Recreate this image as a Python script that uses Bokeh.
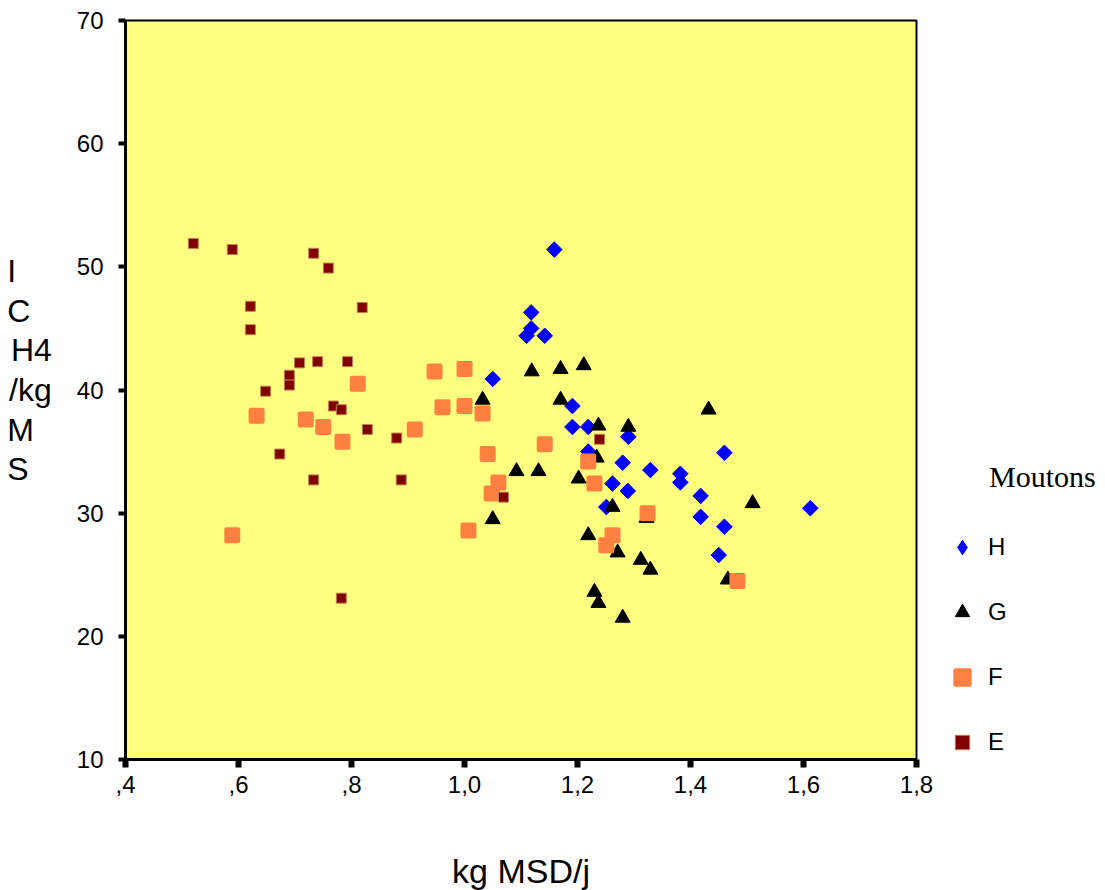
import math
from bokeh.plotting import figure
from bokeh.models import (Range1d, FixedTicker, CustomJSTickFormatter,
                          Legend, LegendItem)
from bokeh.embed import file_html
from bokeh.resources import INLINE

# ---- data ----
groups = ["H", "G", "F", "E"]

h_x = [1.159, 1.118, 1.118, 1.110, 1.142, 1.050, 1.191, 1.191, 1.219, 1.290, 1.219, 1.280,
       1.329, 1.382, 1.382, 1.262, 1.289, 1.251, 1.418, 1.418, 1.460, 1.460, 1.450, 1.612]
h_y = [51.4, 46.3, 45.0, 44.4, 44.4, 40.9, 38.7, 37.0, 37.0, 36.2, 35.0, 34.1,
       33.5, 33.2, 32.5, 32.4, 31.8, 30.5, 31.4, 29.7, 34.9, 28.9, 26.6, 30.4]

g_x = [1.119, 1.170, 1.211, 1.032, 1.170, 1.237, 1.290, 1.234, 1.092, 1.131, 1.202, 1.262,
       1.322, 1.050, 1.219, 1.271, 1.312, 1.329, 1.230, 1.237, 1.280, 1.432, 1.510, 1.466]
g_y = [41.5, 41.7, 42.0, 39.2, 39.2, 37.1, 37.0, 34.5, 33.4, 33.4, 32.8, 30.5,
       29.6, 29.5, 28.2, 26.8, 26.2, 25.4, 23.6, 22.7, 21.5, 38.4, 30.8, 24.6]

f_x = [0.947, 1.000, 0.811, 0.961, 1.000, 1.032, 0.632, 0.719, 0.750, 0.912, 0.784, 1.142,
       1.041, 1.219, 1.060, 1.230, 1.048, 1.324, 1.007, 1.262, 1.251, 1.483, 0.589]
f_y = [41.5, 41.7, 40.5, 38.6, 38.7, 38.1, 37.9, 37.6, 37.0, 36.8, 35.8, 35.6,
       34.8, 34.2, 32.5, 32.4, 31.6, 30.0, 28.6, 28.2, 27.4, 24.5, 28.2]

e_x = [0.520, 0.589, 0.733, 0.759, 0.621, 0.819, 0.621, 0.708, 0.740, 0.793, 0.690, 0.690,
       0.648, 0.768, 0.782, 0.828, 0.880, 0.673, 0.733, 0.888, 0.782, 1.069, 1.239]
e_y = [51.9, 51.4, 51.1, 49.9, 46.8, 46.7, 44.9, 42.2, 42.3, 42.3, 41.2, 40.4,
       39.9, 38.7, 38.4, 36.8, 36.1, 34.8, 32.7, 32.7, 23.1, 31.3, 36.0]

x_ticks = [0.4, 0.6, 0.8, 1.0, 1.2, 1.4, 1.6, 1.8]
y_ticks = [10, 20, 30, 40, 50, 60, 70]
x_title = "kg MSD/j"
y_title_lines = ["I", "C", "H4", "/kg", "M", "S"]
legend_title = "Moutons"

FONT = "Liberation Sans"
NB = "\u00a0"
# trailing spaces so that the right-aligned lines of the label look left-aligned
y_pad = [NB * 4, "\u2002\u2006", "", "", NB * 2, "\u2007\u2006"]
y_title = "\n".join(t + s for t, s in zip(y_title_lines, y_pad)) + "\n" + NB

p = figure(frame_width=791, frame_height=739, output_backend="svg",
           toolbar_location=None,
           x_range=Range1d(0.4, 1.8), y_range=Range1d(10, 70),
           min_border_left=125, min_border_right=0, min_border_top=20,
           min_border_bottom=123)
p.background_fill_color = "#FFFF80"
p.border_fill_color = "white"
p.outline_line_color = "black"
p.outline_line_width = 2
p.grid.visible = False

for ax in (p.xaxis[0], p.yaxis[0]):
    ax.axis_line_color = "black"
    ax.axis_line_width = 3
    ax.major_tick_in = 0
    ax.minor_tick_line_color = None
    ax.major_tick_line_color = "black"
    ax.major_label_text_font = FONT
    ax.major_label_text_font_size = "24px"
    ax.major_label_text_color = "black"
    ax.axis_label_text_font = FONT
    ax.axis_label_text_font_style = "normal"
    ax.axis_label_text_color = "black"

p.xaxis.ticker = FixedTicker(ticks=x_ticks)
p.xaxis.formatter = CustomJSTickFormatter(code="""
const s = tick.toFixed(1).replace('.', ',');
return s.startsWith('0') ? s.slice(1) : s;
""")
p.xaxis.major_tick_out = 8
p.xaxis.major_tick_line_width = 6
p.xaxis.major_label_standoff = 8
p.xaxis.axis_label = x_title
p.xaxis.axis_label_text_font_size = "34px"
p.xaxis.axis_label_standoff = 56

p.yaxis.ticker = FixedTicker(ticks=y_ticks)
p.yaxis.major_tick_out = 7
p.yaxis.major_tick_line_width = 4
p.yaxis.major_label_standoff = 15
p.yaxis.axis_label = y_title
p.yaxis.axis_label_orientation = "horizontal"
p.yaxis.axis_label_text_font_size = "32px"
p.yaxis.axis_label_text_line_height = 1.10
p.yaxis.axis_label_standoff = 22

# legend proxy for H: a narrow diamond hidden under the first H marker
# (the legend does not rotate markers, so the plotted rotated squares
# would show as upright squares there)
rh_leg = p.scatter(h_x[:1], h_y[:1], marker="diamond", size=14,
                   fill_color="#0000FF", line_color="#0000FF", line_width=1)
rh = p.scatter(h_x, h_y, marker="square", angle=math.pi / 4, size=11,
               fill_color="#0000FF", line_color="#0000FF")
rg = p.scatter(g_x, g_y, marker="triangle", size=15,
               fill_color="black", line_color="black")
rf = p.scatter(f_x, f_y, marker="square", size=12, fill_color="#FF8040",
               line_color="#FF8040", line_width=4, line_join="round")
re_ = p.scatter(e_x, e_y, marker="square", size=10, fill_color="#800000",
                line_color="#C08050", line_width=1)

legend = Legend(items=[LegendItem(label=g, renderers=[r])
                       for g, r in zip(groups, [rh_leg, rg, rf, re_])],
                location=(28, -1), border_line_color=None,
                background_fill_alpha=0, padding=0, margin=0, spacing=29,
                glyph_width=36, glyph_height=36, label_height=36,
                label_standoff=8, label_text_font=FONT,
                label_text_font_size="24px", label_text_color="black",
                title=NB * 6 + legend_title,
                title_text_font="Liberation Serif",
                title_text_font_size="30px", title_text_font_style="normal",
                title_text_color="black", title_standoff=35)
p.add_layout(legend, "right")

open("out.html", "w").write(file_html(p, INLINE))
